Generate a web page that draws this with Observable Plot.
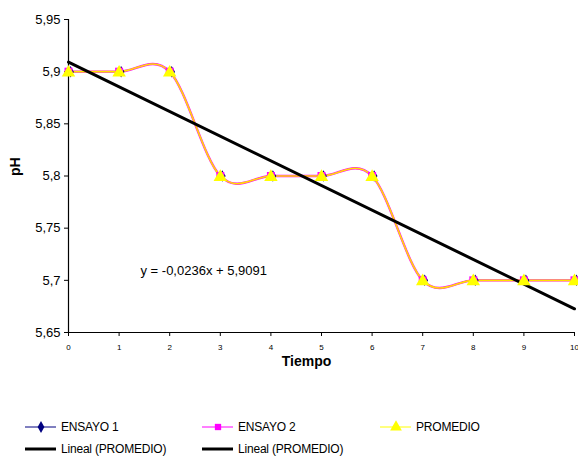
<!DOCTYPE html>
<html><head><meta charset="utf-8">
<script src="https://cdn.jsdelivr.net/npm/d3@7"></script>
<script src="https://cdn.jsdelivr.net/npm/@observablehq/plot@0.6"></script>
<style>
body{margin:0;background:#fff;font-family:"Liberation Sans",Arial,sans-serif;}
#wrap{position:relative;width:578px;height:460px;overflow:hidden;}
.leg{position:absolute;font-size:12px;color:#000;display:flex;align-items:center;white-space:nowrap;letter-spacing:-0.2px;}
.leg svg{margin-right:4px;}
</style></head>
<body><div id="wrap"><div id="chart"></div></div>
<script>
const tiempo = [0,1,2,3,4,5,6,7,8,9,10];
const ensayo1 = [5.9,5.9,5.9,5.8,5.8,5.8,5.8,5.7,5.7,5.7,5.7];
const ensayo2 = [5.9,5.9,5.9,5.8,5.8,5.8,5.8,5.7,5.7,5.7,5.7];
const promedio = [5.9,5.9,5.9,5.8,5.8,5.8,5.8,5.7,5.7,5.7,5.7];
const yTicks = [5.65,5.7,5.75,5.8,5.85,5.9,5.95];
const xTicks = [0,1,2,3,4,5,6,7,8,9,10];
const equation = "y = -0,0236x + 5,9091";

const d1 = tiempo.map((t,i)=>({t, v:ensayo1[i]}));
const d2 = tiempo.map((t,i)=>({t, v:ensayo2[i]}));
const dp = tiempo.map((t,i)=>({t, v:promedio[i]}));
const comma = d => String(d).replace(".", ",");

const plot = Plot.plot({
  width: 578, height: 375,
  marginLeft: 68, marginRight: 4, marginTop: 19, marginBottom: 43,
  style: {fontFamily: '"Liberation Sans",Arial,sans-serif', background: "#fff", overflow: "visible"},
  x: {domain: [0,10]},
  y: {domain: [5.65,5.95]},
  marks: [
    Plot.axisY({ticks: yTicks, tickFormat: comma, tickSize: 4, fontSize: 13, label: null, tickPadding: 4, stroke: "#000"}),
    Plot.axisX({ticks: xTicks, tickFormat: d=>String(d), tickSize: 4, fontSize: 8, label: null, tickPadding: 8, stroke: "#000"}),
    Plot.ruleX([0], {stroke: "#000", strokeWidth: 1.2}),
    Plot.ruleY([5.65], {stroke: "#000", strokeWidth: 1.2}),
    Plot.line(d1, {x:"t", y:"v", stroke:"#000080", strokeWidth:1, curve:"cardinal"}),
    Plot.line(d2, {x:"t", y:"v", stroke:"#ff00ff", strokeWidth:2.4, curve:"cardinal"}),
    Plot.line(dp, {x:"t", y:"v", stroke:"#ffe000", strokeWidth:1.6, curve:"cardinal"}),
    Plot.linearRegressionY(dp, {x:"t", y:"v", stroke:"#000", strokeWidth:3, ci:0}),
    Plot.dot(d1, {x:"t", y:"v", symbol:"diamond", r:3.5, fill:"#000080", stroke:"none", dx:2}),
    Plot.dot(d2, {x:"t", y:"v", symbol:"square", r:4.5, fill:"#ff00ff", stroke:"none"}),
    Plot.dot(dp, {x:"t", y:"v", symbol:"triangle", r:5, fill:"#ffff00", stroke:"none", dy:1}),
    Plot.text([equation], {frameAnchor:"top-left", dx:72, dy:246, textAnchor:"start", fontSize:13, fill:"#000"}),
    Plot.text(["Tiempo"], {frameAnchor:"bottom", dx:-15, dy:33, fontSize:14, fontWeight:"bold", fill:"#000"}),
    Plot.text(["pH"], {frameAnchor:"left", dx:-53, dy:0, rotate:-90, fontSize:14, fontWeight:"bold", fill:"#000"})
  ]
});
document.getElementById("chart").appendChild(plot);

const legendItems = [
  {label:"ENSAYO 1", color:"#000080", sym:"diamond", w:1, left:25, top:418},
  {label:"ENSAYO 2", color:"#ff00ff", sym:"square", w:1, left:202, top:418},
  {label:"PROMEDIO", color:"#ffff00", sym:"triangle", w:1, left:380, top:418},
  {label:"Lineal (PROMEDIO)", color:"#000", sym:null, w:3, left:25, top:440},
  {label:"Lineal (PROMEDIO)", color:"#000", sym:null, w:3, left:202, top:440}
];
const wrap = document.getElementById("wrap");
for (const it of legendItems) {
  const div = document.createElement("div");
  div.className = "leg";
  div.style.left = it.left + "px";
  div.style.top = it.top + "px";
  const ns = "http://www.w3.org/2000/svg";
  const s = document.createElementNS(ns, "svg");
  s.setAttribute("width", 32); s.setAttribute("height", 18);
  const l = document.createElementNS(ns, "line");
  l.setAttribute("x1", 0); l.setAttribute("x2", 31); l.setAttribute("y1", 9); l.setAttribute("y2", 9);
  l.setAttribute("stroke", it.color); l.setAttribute("stroke-width", it.w);
  s.appendChild(l);
  if (it.sym) {
    const p = document.createElementNS(ns, "path");
    p.setAttribute("d", d3.symbol(it.sym === "diamond" ? d3.symbolDiamond : it.sym === "square" ? d3.symbolSquare : d3.symbolTriangle, it.sym==="triangle"?60:40)());
    p.setAttribute("transform", "translate(16,9)");
    p.setAttribute("fill", it.color);
    s.appendChild(p);
  }
  div.appendChild(s);
  const t = document.createElement("span");
  t.textContent = it.label;
  div.appendChild(t);
  wrap.appendChild(div);
}
</script></body></html>
